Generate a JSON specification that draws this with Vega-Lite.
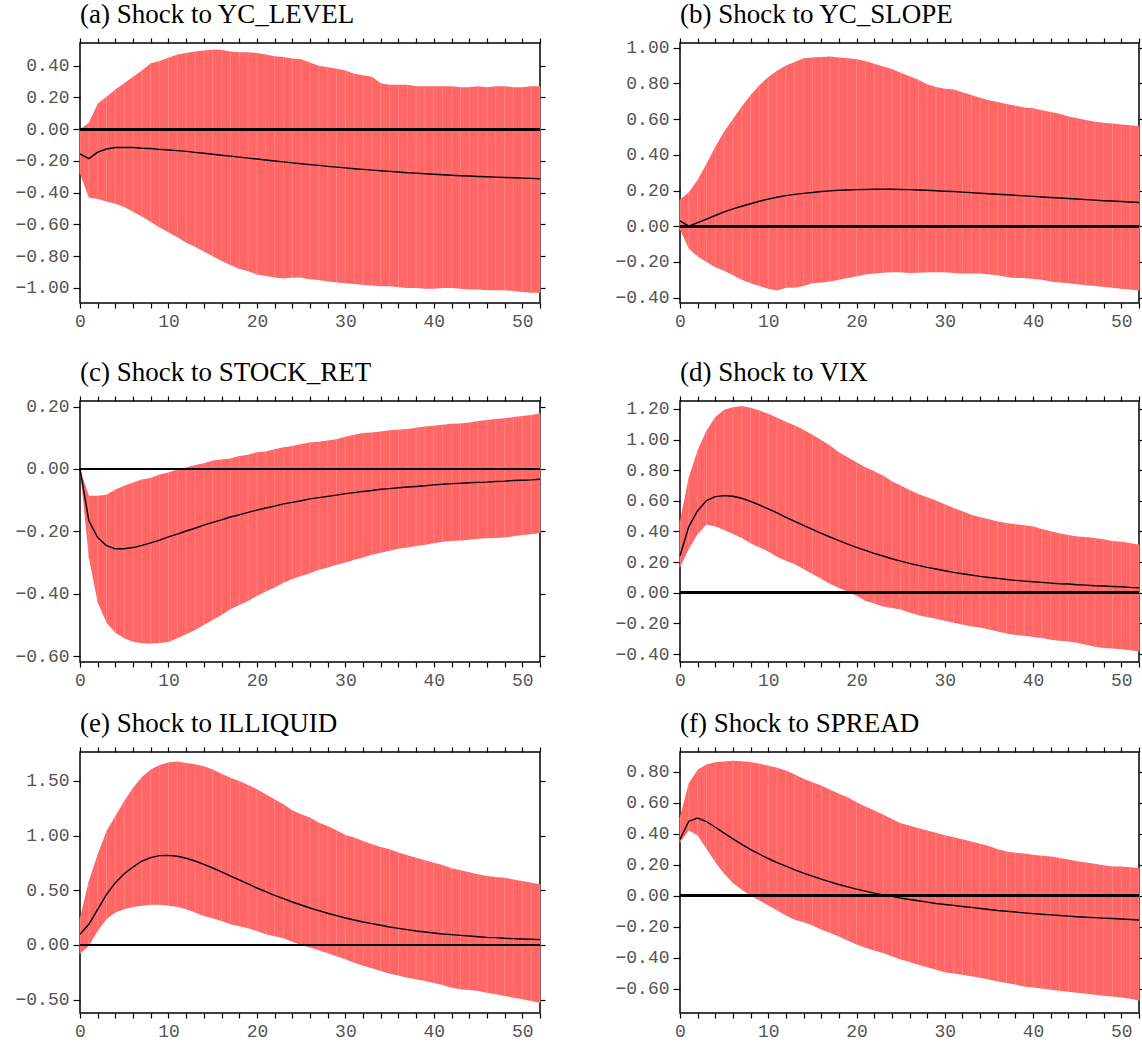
{
  "$schema": "https://vega.github.io/schema/vega-lite/v6.json",
  "background": "white",
  "padding": {"left": 14, "top": 0, "right": 0, "bottom": 0},
  "config": {
    "view": {"stroke": "black", "strokeWidth": 1.5},
    "font": "Liberation Serif",
    "axis": {"domain": false, "grid": false, "labelFont": "Liberation Mono", "labelFontSize": 18, "labelColor": "#555555", "tickColor": "black", "tickWidth": 1.2, "labelPadding": 4, "title": null, "labelOverlap": false, "labelFlush": false, "labelBound": false},
    "title": {"font": "Liberation Serif", "fontSize": 27, "fontWeight": "normal", "anchor": "start", "color": "black", "frame": "group", "offset": 8},
    "line": {"color": "black", "strokeWidth": 1.4},
    "area": {"color": "#ff6666"}
  },
  "data": {"values": [
    {"step":0,"a_lo":-0.28,"a_hi":0.0,"a_irf":-0.155,"b_lo":-0.02,"b_hi":0.15,"b_irf":0.03,"c_lo":0,"c_hi":0,"c_irf":0,"d_lo":0.166,"d_hi":0.47,"d_irf":0.242,"e_lo":-0.079,"e_hi":0.25,"e_irf":0.098,"f_lo":0.345,"f_hi":0.51,"f_irf":0.365},
    {"step":1,"a_lo":-0.43,"a_hi":0.04,"a_irf":-0.185,"b_lo":-0.125,"b_hi":0.19,"b_irf":0.0,"c_lo":-0.284,"c_hi":-0.086,"c_irf":-0.166,"d_lo":0.286,"d_hi":0.754,"d_irf":0.432,"e_lo":-0.009,"e_hi":0.585,"e_irf":0.189,"f_lo":0.422,"f_hi":0.728,"f_irf":0.482},
    {"step":2,"a_lo":-0.44,"a_hi":0.16,"a_irf":-0.145,"b_lo":-0.17,"b_hi":0.26,"b_irf":0.02,"c_lo":-0.428,"c_hi":-0.086,"c_irf":-0.22,"d_lo":0.384,"d_hi":0.93,"d_irf":0.536,"e_lo":0.128,"e_hi":0.83,"e_irf":0.326,"f_lo":0.39,"f_hi":0.814,"f_irf":0.502},
    {"step":3,"a_lo":-0.455,"a_hi":0.205,"a_irf":-0.125,"b_lo":-0.2,"b_hi":0.35,"b_irf":0.04,"c_lo":-0.493,"c_hi":-0.083,"c_irf":-0.246,"d_lo":0.445,"d_hi":1.06,"d_irf":0.602,"e_lo":0.235,"e_hi":1.043,"e_irf":0.463,"f_lo":0.304,"f_hi":0.848,"f_irf":0.48},
    {"step":4,"a_lo":-0.47,"a_hi":0.25,"a_irf":-0.115,"b_lo":-0.23,"b_hi":0.445,"b_irf":0.06,"c_lo":-0.525,"c_hi":-0.066,"c_irf":-0.256,"d_lo":0.432,"d_hi":1.147,"d_irf":0.628,"e_lo":0.296,"e_hi":1.18,"e_irf":0.57,"f_lo":0.217,"f_hi":0.863,"f_irf":0.443},
    {"step":5,"a_lo":-0.49,"a_hi":0.29,"a_irf":-0.115,"b_lo":-0.25,"b_hi":0.53,"b_irf":0.08,"c_lo":-0.543,"c_hi":-0.054,"c_irf":-0.256,"d_lo":0.41,"d_hi":1.195,"d_irf":0.634,"e_lo":0.326,"e_hi":1.317,"e_irf":0.652,"f_lo":0.142,"f_hi":0.868,"f_irf":0.405},
    {"step":6,"a_lo":-0.52,"a_hi":0.33,"a_irf":-0.115,"b_lo":-0.275,"b_hi":0.6,"b_irf":0.097,"c_lo":-0.554,"c_hi":-0.043,"c_irf":-0.252,"d_lo":0.384,"d_hi":1.212,"d_irf":0.63,"e_lo":0.348,"e_hi":1.439,"e_irf":0.713,"f_lo":0.082,"f_hi":0.872,"f_irf":0.368},
    {"step":7,"a_lo":-0.55,"a_hi":0.37,"a_irf":-0.12,"b_lo":-0.3,"b_hi":0.67,"b_irf":0.112,"c_lo":-0.559,"c_hi":-0.034,"c_irf":-0.245,"d_lo":0.357,"d_hi":1.22,"d_irf":0.617,"e_lo":0.36,"e_hi":1.537,"e_irf":0.768,"f_lo":0.039,"f_hi":0.87,"f_irf":0.332},
    {"step":8,"a_lo":-0.585,"a_hi":0.415,"a_irf":-0.122,"b_lo":-0.32,"b_hi":0.735,"b_irf":0.126,"c_lo":-0.56,"c_hi":-0.029,"c_irf":-0.237,"d_lo":0.323,"d_hi":1.208,"d_irf":0.597,"e_lo":0.369,"e_hi":1.604,"e_irf":0.799,"f_lo":0.002,"f_hi":0.865,"f_irf":0.299},
    {"step":9,"a_lo":-0.62,"a_hi":0.43,"a_irf":-0.127,"b_lo":-0.335,"b_hi":0.79,"b_irf":0.14,"c_lo":-0.558,"c_hi":-0.018,"c_irf":-0.228,"d_lo":0.296,"d_hi":1.19,"d_irf":0.573,"e_lo":0.369,"e_hi":1.646,"e_irf":0.817,"f_lo":-0.03,"f_hi":0.853,"f_irf":0.269},
    {"step":10,"a_lo":-0.65,"a_hi":0.45,"a_irf":-0.131,"b_lo":-0.35,"b_hi":0.835,"b_irf":0.152,"c_lo":-0.555,"c_hi":-0.011,"c_irf":-0.218,"d_lo":0.27,"d_hi":1.168,"d_irf":0.547,"e_lo":0.36,"e_hi":1.67,"e_irf":0.82,"f_lo":-0.062,"f_hi":0.84,"f_irf":0.241},
    {"step":11,"a_lo":-0.68,"a_hi":0.47,"a_irf":-0.135,"b_lo":-0.36,"b_hi":0.87,"b_irf":0.162,"c_lo":-0.543,"c_hi":-0.002,"c_irf":-0.209,"d_lo":0.235,"d_hi":1.142,"d_irf":0.521,"e_lo":0.348,"e_hi":1.677,"e_irf":0.811,"f_lo":-0.095,"f_hi":0.827,"f_irf":0.215},
    {"step":12,"a_lo":-0.715,"a_hi":0.48,"a_irf":-0.14,"b_lo":-0.345,"b_hi":0.9,"b_irf":0.171,"c_lo":-0.53,"c_hi":0.005,"c_irf":-0.199,"d_lo":0.209,"d_hi":1.116,"d_irf":0.493,"e_lo":0.326,"e_hi":1.665,"e_irf":0.793,"f_lo":-0.127,"f_hi":0.81,"f_irf":0.192},
    {"step":13,"a_lo":-0.74,"a_hi":0.49,"a_irf":-0.146,"b_lo":-0.345,"b_hi":0.92,"b_irf":0.178,"c_lo":-0.516,"c_hi":0.013,"c_irf":-0.19,"d_lo":0.187,"d_hi":1.092,"d_irf":0.466,"e_lo":0.296,"e_hi":1.652,"e_irf":0.768,"f_lo":-0.155,"f_hi":0.784,"f_irf":0.168},
    {"step":14,"a_lo":-0.77,"a_hi":0.495,"a_irf":-0.152,"b_lo":-0.335,"b_hi":0.94,"b_irf":0.184,"c_lo":-0.5,"c_hi":0.018,"c_irf":-0.18,"d_lo":0.155,"d_hi":1.064,"d_irf":0.44,"e_lo":0.265,"e_hi":1.634,"e_irf":0.738,"f_lo":-0.17,"f_hi":0.756,"f_irf":0.146},
    {"step":15,"a_lo":-0.8,"a_hi":0.5,"a_irf":-0.158,"b_lo":-0.32,"b_hi":0.945,"b_irf":0.189,"c_lo":-0.484,"c_hi":0.027,"c_irf":-0.171,"d_lo":0.122,"d_hi":1.031,"d_irf":0.414,"e_lo":0.244,"e_hi":1.604,"e_irf":0.704,"f_lo":-0.192,"f_hi":0.734,"f_irf":0.127},
    {"step":16,"a_lo":-0.83,"a_hi":0.5,"a_irf":-0.164,"b_lo":-0.315,"b_hi":0.948,"b_irf":0.194,"c_lo":-0.468,"c_hi":0.03,"c_irf":-0.163,"d_lo":0.092,"d_hi":0.998,"d_irf":0.388,"e_lo":0.22,"e_hi":1.567,"e_irf":0.668,"f_lo":-0.217,"f_hi":0.713,"f_irf":0.108},
    {"step":17,"a_lo":-0.855,"a_hi":0.49,"a_irf":-0.17,"b_lo":-0.31,"b_hi":0.95,"b_irf":0.198,"c_lo":-0.45,"c_hi":0.034,"c_irf":-0.154,"d_lo":0.057,"d_hi":0.961,"d_irf":0.364,"e_lo":0.189,"e_hi":1.53,"e_irf":0.631,"f_lo":-0.241,"f_hi":0.685,"f_irf":0.09},
    {"step":18,"a_lo":-0.88,"a_hi":0.485,"a_irf":-0.176,"b_lo":-0.3,"b_hi":0.945,"b_irf":0.201,"c_lo":-0.436,"c_hi":0.042,"c_irf":-0.147,"d_lo":0.031,"d_hi":0.918,"d_irf":0.34,"e_lo":0.171,"e_hi":1.5,"e_irf":0.595,"f_lo":-0.263,"f_hi":0.659,"f_irf":0.073},
    {"step":19,"a_lo":-0.895,"a_hi":0.485,"a_irf":-0.182,"b_lo":-0.29,"b_hi":0.94,"b_irf":0.203,"c_lo":-0.423,"c_hi":0.046,"c_irf":-0.139,"d_lo":0.009,"d_hi":0.885,"d_irf":0.318,"e_lo":0.152,"e_hi":1.463,"e_irf":0.558,"f_lo":-0.288,"f_hi":0.637,"f_irf":0.058},
    {"step":20,"a_lo":-0.915,"a_hi":0.48,"a_irf":-0.188,"b_lo":-0.28,"b_hi":0.935,"b_irf":0.205,"c_lo":-0.407,"c_hi":0.054,"c_irf":-0.132,"d_lo":-0.02,"d_hi":0.852,"d_irf":0.296,"e_lo":0.128,"e_hi":1.424,"e_irf":0.521,"f_lo":-0.314,"f_hi":0.605,"f_irf":0.043},
    {"step":21,"a_lo":-0.925,"a_hi":0.47,"a_irf":-0.194,"b_lo":-0.27,"b_hi":0.925,"b_irf":0.206,"c_lo":-0.393,"c_hi":0.056,"c_irf":-0.125,"d_lo":-0.052,"d_hi":0.82,"d_irf":0.277,"e_lo":0.098,"e_hi":1.378,"e_irf":0.488,"f_lo":-0.336,"f_hi":0.577,"f_irf":0.03},
    {"step":22,"a_lo":-0.935,"a_hi":0.46,"a_irf":-0.2,"b_lo":-0.265,"b_hi":0.91,"b_irf":0.207,"c_lo":-0.38,"c_hi":0.063,"c_irf":-0.119,"d_lo":-0.07,"d_hi":0.793,"d_irf":0.257,"e_lo":0.079,"e_hi":1.332,"e_irf":0.454,"f_lo":-0.353,"f_hi":0.551,"f_irf":0.017},
    {"step":23,"a_lo":-0.94,"a_hi":0.455,"a_irf":-0.206,"b_lo":-0.26,"b_hi":0.895,"b_irf":0.207,"c_lo":-0.365,"c_hi":0.07,"c_irf":-0.112,"d_lo":-0.089,"d_hi":0.765,"d_irf":0.24,"e_lo":0.061,"e_hi":1.287,"e_irf":0.424,"f_lo":-0.37,"f_hi":0.525,"f_irf":0.006},
    {"step":24,"a_lo":-0.935,"a_hi":0.445,"a_irf":-0.212,"b_lo":-0.258,"b_hi":0.88,"b_irf":0.207,"c_lo":-0.353,"c_hi":0.074,"c_irf":-0.107,"d_lo":-0.1,"d_hi":0.728,"d_irf":0.222,"e_lo":0.03,"e_hi":1.232,"e_irf":0.393,"f_lo":-0.39,"f_hi":0.497,"f_irf":-0.004},
    {"step":25,"a_lo":-0.935,"a_hi":0.44,"a_irf":-0.218,"b_lo":-0.258,"b_hi":0.86,"b_irf":0.206,"c_lo":-0.343,"c_hi":0.08,"c_irf":-0.102,"d_lo":-0.109,"d_hi":0.7,"d_irf":0.207,"e_lo":0.0,"e_hi":1.195,"e_irf":0.366,"f_lo":-0.411,"f_hi":0.469,"f_irf":-0.015},
    {"step":26,"a_lo":-0.945,"a_hi":0.42,"a_irf":-0.223,"b_lo":-0.262,"b_hi":0.84,"b_irf":0.205,"c_lo":-0.334,"c_hi":0.085,"c_irf":-0.096,"d_lo":-0.129,"d_hi":0.671,"d_irf":0.192,"e_lo":-0.024,"e_hi":1.165,"e_irf":0.338,"f_lo":-0.428,"f_hi":0.454,"f_irf":-0.024},
    {"step":27,"a_lo":-0.95,"a_hi":0.4,"a_irf":-0.228,"b_lo":-0.26,"b_hi":0.82,"b_irf":0.203,"c_lo":-0.323,"c_hi":0.087,"c_irf":-0.092,"d_lo":-0.146,"d_hi":0.645,"d_irf":0.179,"e_lo":-0.049,"e_hi":1.119,"e_irf":0.314,"f_lo":-0.446,"f_hi":0.437,"f_irf":-0.032},
    {"step":28,"a_lo":-0.96,"a_hi":0.39,"a_irf":-0.234,"b_lo":-0.258,"b_hi":0.795,"b_irf":0.201,"c_lo":-0.316,"c_hi":0.091,"c_irf":-0.088,"d_lo":-0.159,"d_hi":0.623,"d_irf":0.166,"e_lo":-0.076,"e_hi":1.088,"e_irf":0.29,"f_lo":-0.461,"f_hi":0.422,"f_irf":-0.041},
    {"step":29,"a_lo":-0.965,"a_hi":0.38,"a_irf":-0.239,"b_lo":-0.258,"b_hi":0.78,"b_irf":0.199,"c_lo":-0.307,"c_hi":0.095,"c_irf":-0.084,"d_lo":-0.17,"d_hi":0.602,"d_irf":0.155,"e_lo":-0.104,"e_hi":1.049,"e_irf":0.268,"f_lo":-0.478,"f_hi":0.407,"f_irf":-0.05},
    {"step":30,"a_lo":-0.97,"a_hi":0.37,"a_irf":-0.244,"b_lo":-0.258,"b_hi":0.77,"b_irf":0.196,"c_lo":-0.3,"c_hi":0.103,"c_irf":-0.079,"d_lo":-0.183,"d_hi":0.578,"d_irf":0.144,"e_lo":-0.131,"e_hi":1.006,"e_irf":0.247,"f_lo":-0.493,"f_hi":0.392,"f_irf":-0.056},
    {"step":31,"a_lo":-0.975,"a_hi":0.35,"a_irf":-0.249,"b_lo":-0.262,"b_hi":0.765,"b_irf":0.194,"c_lo":-0.291,"c_hi":0.11,"c_irf":-0.076,"d_lo":-0.196,"d_hi":0.554,"d_irf":0.133,"e_lo":-0.162,"e_hi":0.982,"e_irf":0.229,"f_lo":-0.502,"f_hi":0.379,"f_irf":-0.062},
    {"step":32,"a_lo":-0.98,"a_hi":0.34,"a_irf":-0.253,"b_lo":-0.265,"b_hi":0.75,"b_irf":0.191,"c_lo":-0.284,"c_hi":0.115,"c_irf":-0.072,"d_lo":-0.207,"d_hi":0.532,"d_irf":0.124,"e_lo":-0.189,"e_hi":0.951,"e_irf":0.21,"f_lo":-0.51,"f_hi":0.366,"f_irf":-0.069},
    {"step":33,"a_lo":-0.985,"a_hi":0.33,"a_irf":-0.258,"b_lo":-0.265,"b_hi":0.735,"b_irf":0.188,"c_lo":-0.275,"c_hi":0.117,"c_irf":-0.069,"d_lo":-0.218,"d_hi":0.51,"d_irf":0.116,"e_lo":-0.213,"e_hi":0.921,"e_irf":0.195,"f_lo":-0.519,"f_hi":0.351,"f_irf":-0.075},
    {"step":34,"a_lo":-0.99,"a_hi":0.29,"a_irf":-0.262,"b_lo":-0.265,"b_hi":0.72,"b_irf":0.185,"c_lo":-0.269,"c_hi":0.12,"c_irf":-0.065,"d_lo":-0.227,"d_hi":0.493,"d_irf":0.107,"e_lo":-0.238,"e_hi":0.896,"e_irf":0.18,"f_lo":-0.53,"f_hi":0.336,"f_irf":-0.082},
    {"step":35,"a_lo":-0.99,"a_hi":0.28,"a_irf":-0.266,"b_lo":-0.27,"b_hi":0.705,"b_irf":0.182,"c_lo":-0.262,"c_hi":0.124,"c_irf":-0.063,"d_lo":-0.24,"d_hi":0.48,"d_irf":0.1,"e_lo":-0.262,"e_hi":0.875,"e_irf":0.165,"f_lo":-0.54,"f_hi":0.321,"f_irf":-0.088},
    {"step":36,"a_lo":-0.995,"a_hi":0.28,"a_irf":-0.27,"b_lo":-0.275,"b_hi":0.695,"b_irf":0.179,"c_lo":-0.256,"c_hi":0.126,"c_irf":-0.06,"d_lo":-0.253,"d_hi":0.466,"d_irf":0.094,"e_lo":-0.28,"e_hi":0.845,"e_irf":0.152,"f_lo":-0.553,"f_hi":0.301,"f_irf":-0.095},
    {"step":37,"a_lo":-1.0,"a_hi":0.28,"a_irf":-0.274,"b_lo":-0.285,"b_hi":0.685,"b_irf":0.176,"c_lo":-0.252,"c_hi":0.128,"c_irf":-0.058,"d_lo":-0.266,"d_hi":0.456,"d_irf":0.087,"e_lo":-0.299,"e_hi":0.82,"e_irf":0.14,"f_lo":-0.564,"f_hi":0.286,"f_irf":-0.1},
    {"step":38,"a_lo":-1.0,"a_hi":0.27,"a_irf":-0.277,"b_lo":-0.29,"b_hi":0.675,"b_irf":0.173,"c_lo":-0.247,"c_hi":0.132,"c_irf":-0.056,"d_lo":-0.275,"d_hi":0.447,"d_irf":0.081,"e_lo":-0.314,"e_hi":0.799,"e_irf":0.128,"f_lo":-0.573,"f_hi":0.278,"f_irf":-0.105},
    {"step":39,"a_lo":-1.005,"a_hi":0.27,"a_irf":-0.281,"b_lo":-0.29,"b_hi":0.665,"b_irf":0.17,"c_lo":-0.243,"c_hi":0.136,"c_irf":-0.054,"d_lo":-0.281,"d_hi":0.44,"d_irf":0.076,"e_lo":-0.329,"e_hi":0.774,"e_irf":0.119,"f_lo":-0.586,"f_hi":0.273,"f_irf":-0.11},
    {"step":40,"a_lo":-1.005,"a_hi":0.27,"a_irf":-0.284,"b_lo":-0.295,"b_hi":0.66,"b_irf":0.167,"c_lo":-0.238,"c_hi":0.139,"c_irf":-0.051,"d_lo":-0.288,"d_hi":0.432,"d_irf":0.072,"e_lo":-0.348,"e_hi":0.753,"e_irf":0.11,"f_lo":-0.592,"f_hi":0.265,"f_irf":-0.115},
    {"step":41,"a_lo":-1.0,"a_hi":0.27,"a_irf":-0.287,"b_lo":-0.3,"b_hi":0.65,"b_irf":0.164,"c_lo":-0.233,"c_hi":0.142,"c_irf":-0.049,"d_lo":-0.296,"d_hi":0.416,"d_irf":0.068,"e_lo":-0.366,"e_hi":0.732,"e_irf":0.101,"f_lo":-0.598,"f_hi":0.258,"f_irf":-0.119},
    {"step":42,"a_lo":-1.0,"a_hi":0.27,"a_irf":-0.29,"b_lo":-0.31,"b_hi":0.64,"b_irf":0.161,"c_lo":-0.231,"c_hi":0.145,"c_irf":-0.047,"d_lo":-0.307,"d_hi":0.401,"d_irf":0.063,"e_lo":-0.39,"e_hi":0.701,"e_irf":0.095,"f_lo":-0.607,"f_hi":0.254,"f_irf":-0.123},
    {"step":43,"a_lo":-1.005,"a_hi":0.265,"a_irf":-0.293,"b_lo":-0.315,"b_hi":0.63,"b_irf":0.158,"c_lo":-0.229,"c_hi":0.146,"c_irf":-0.046,"d_lo":-0.314,"d_hi":0.388,"d_irf":0.059,"e_lo":-0.405,"e_hi":0.683,"e_irf":0.088,"f_lo":-0.614,"f_hi":0.245,"f_irf":-0.127},
    {"step":44,"a_lo":-1.01,"a_hi":0.265,"a_irf":-0.295,"b_lo":-0.32,"b_hi":0.615,"b_irf":0.155,"c_lo":-0.227,"c_hi":0.149,"c_irf":-0.044,"d_lo":-0.318,"d_hi":0.377,"d_irf":0.057,"e_lo":-0.412,"e_hi":0.665,"e_irf":0.082,"f_lo":-0.62,"f_hi":0.235,"f_irf":-0.131},
    {"step":45,"a_lo":-1.01,"a_hi":0.27,"a_irf":-0.298,"b_lo":-0.325,"b_hi":0.605,"b_irf":0.152,"c_lo":-0.224,"c_hi":0.154,"c_irf":-0.043,"d_lo":-0.327,"d_hi":0.368,"d_irf":0.052,"e_lo":-0.421,"e_hi":0.646,"e_irf":0.076,"f_lo":-0.626,"f_hi":0.224,"f_irf":-0.135},
    {"step":46,"a_lo":-1.015,"a_hi":0.265,"a_irf":-0.3,"b_lo":-0.33,"b_hi":0.595,"b_irf":0.149,"c_lo":-0.222,"c_hi":0.157,"c_irf":-0.042,"d_lo":-0.34,"d_hi":0.364,"d_irf":0.05,"e_lo":-0.436,"e_hi":0.631,"e_irf":0.07,"f_lo":-0.633,"f_hi":0.215,"f_irf":-0.138},
    {"step":47,"a_lo":-1.015,"a_hi":0.27,"a_irf":-0.302,"b_lo":-0.335,"b_hi":0.585,"b_irf":0.146,"c_lo":-0.221,"c_hi":0.16,"c_irf":-0.04,"d_lo":-0.353,"d_hi":0.357,"d_irf":0.046,"e_lo":-0.451,"e_hi":0.622,"e_irf":0.067,"f_lo":-0.639,"f_hi":0.207,"f_irf":-0.141},
    {"step":48,"a_lo":-1.015,"a_hi":0.27,"a_irf":-0.304,"b_lo":-0.34,"b_hi":0.58,"b_irf":0.143,"c_lo":-0.22,"c_hi":0.163,"c_irf":-0.039,"d_lo":-0.36,"d_hi":0.349,"d_irf":0.044,"e_lo":-0.466,"e_hi":0.616,"e_irf":0.061,"f_lo":-0.646,"f_hi":0.198,"f_irf":-0.144},
    {"step":49,"a_lo":-1.02,"a_hi":0.265,"a_irf":-0.306,"b_lo":-0.345,"b_hi":0.575,"b_irf":0.141,"c_lo":-0.216,"c_hi":0.167,"c_irf":-0.037,"d_lo":-0.364,"d_hi":0.338,"d_irf":0.041,"e_lo":-0.482,"e_hi":0.598,"e_irf":0.058,"f_lo":-0.65,"f_hi":0.189,"f_irf":-0.147},
    {"step":50,"a_lo":-1.025,"a_hi":0.265,"a_irf":-0.308,"b_lo":-0.35,"b_hi":0.57,"b_irf":0.138,"c_lo":-0.212,"c_hi":0.17,"c_irf":-0.036,"d_lo":-0.368,"d_hi":0.333,"d_irf":0.039,"e_lo":-0.497,"e_hi":0.585,"e_irf":0.055,"f_lo":-0.657,"f_hi":0.189,"f_irf":-0.15},
    {"step":51,"a_lo":-1.03,"a_hi":0.27,"a_irf":-0.31,"b_lo":-0.355,"b_hi":0.565,"b_irf":0.136,"c_lo":-0.209,"c_hi":0.173,"c_irf":-0.035,"d_lo":-0.375,"d_hi":0.325,"d_irf":0.035,"e_lo":-0.512,"e_hi":0.57,"e_irf":0.052,"f_lo":-0.665,"f_hi":0.185,"f_irf":-0.153},
    {"step":52,"a_lo":-1.03,"a_hi":0.27,"a_irf":-0.312,"b_lo":-0.36,"b_hi":0.56,"b_irf":0.133,"c_lo":-0.205,"c_hi":0.178,"c_irf":-0.033,"d_lo":-0.384,"d_hi":0.314,"d_irf":0.033,"e_lo":-0.53,"e_hi":0.555,"e_irf":0.049,"f_lo":-0.676,"f_hi":0.179,"f_irf":-0.156}
  ]},
  "spacing": 27,
  "vconcat": [
    {
      "spacing": 67,
      "hconcat": [
        {
          "width": 460, "height": 260,
          "title": {"text": "(a) Shock to YC_LEVEL"},
          "layer": [
            {"mark": "area", "encoding": {
              "x": {"field": "step", "type": "quantitative", "scale": {"domain": [0, 52], "nice": false, "zero": false}, "axis": {"values": [0,2,4,6,8,10,12,14,16,18,20,22,24,26,28,30,32,34,36,38,40,42,44,46,48,50,52], "labelExpr": "datum.value % 10 === 0 ? datum.label : ''", "tickSize": 5}},
              "y": {"field": "a_lo", "type": "quantitative", "scale": {"domain": [-1.095, 0.543], "nice": false, "zero": false}, "axis": {"values": [-1.0,-0.8,-0.6,-0.4,-0.2,0,0.2,0.4], "format": ".2f", "tickSize": 7}},
              "y2": {"field": "a_hi"}}},
            {"mark": {"type": "rule", "color": "#ff8c8c", "strokeWidth": 0.8}, "encoding": {
              "x": {"field": "step", "type": "quantitative", "scale": {"domain": [0, 52]}, "axis": null},
              "y": {"field": "a_lo", "type": "quantitative", "scale": {"domain": [-1.095, 0.543]}, "axis": null},
              "y2": {"field": "a_hi"}}},
            {"mark": {"type": "rule", "color": "black", "strokeWidth": 2.2}, "encoding": {"y": {"datum": 0, "type": "quantitative", "scale": {"domain": [-1.095, 0.543]}, "axis": null}}},
            {"mark": "line", "encoding": {
              "x": {"field": "step", "type": "quantitative", "scale": {"domain": [0, 52]}, "axis": {"orient": "top", "values": [0,2,4,6,8,10,12,14,16,18,20,22,24,26,28,30,32,34,36,38,40,42,44,46,48,50,52], "labels": false, "tickSize": 5}},
              "y": {"field": "a_irf", "type": "quantitative", "scale": {"domain": [-1.095, 0.543]}, "axis": {"orient": "right", "values": [-1.0,-0.8,-0.6,-0.4,-0.2,0,0.2,0.4], "labels": false, "tickSize": 5}}}}
          ],
          "resolve": {"axis": {"x": "independent", "y": "independent"}}
        },
        {
          "width": 459, "height": 260,
          "title": {"text": "(b) Shock to YC_SLOPE"},
          "layer": [
            {"mark": "area", "encoding": {
              "x": {"field": "step", "type": "quantitative", "scale": {"domain": [0, 52], "nice": false, "zero": false}, "axis": {"values": [0,2,4,6,8,10,12,14,16,18,20,22,24,26,28,30,32,34,36,38,40,42,44,46,48,50,52], "labelExpr": "datum.value % 10 === 0 ? datum.label : ''", "tickSize": 5}},
              "y": {"field": "b_lo", "type": "quantitative", "scale": {"domain": [-0.43, 1.026], "nice": false, "zero": false}, "axis": {"values": [-0.4,-0.2,0,0.2,0.4,0.6,0.8,1.0], "format": ".2f", "tickSize": 7}},
              "y2": {"field": "b_hi"}}},
            {"mark": {"type": "rule", "color": "#ff8c8c", "strokeWidth": 0.8}, "encoding": {
              "x": {"field": "step", "type": "quantitative", "scale": {"domain": [0, 52]}, "axis": null},
              "y": {"field": "b_lo", "type": "quantitative", "scale": {"domain": [-0.43, 1.026]}, "axis": null},
              "y2": {"field": "b_hi"}}},
            {"mark": {"type": "rule", "color": "black", "strokeWidth": 2.2}, "encoding": {"y": {"datum": 0, "type": "quantitative", "scale": {"domain": [-0.43, 1.026]}, "axis": null}}},
            {"mark": "line", "encoding": {
              "x": {"field": "step", "type": "quantitative", "scale": {"domain": [0, 52]}, "axis": {"orient": "top", "values": [0,2,4,6,8,10,12,14,16,18,20,22,24,26,28,30,32,34,36,38,40,42,44,46,48,50,52], "labels": false, "tickSize": 5}},
              "y": {"field": "b_irf", "type": "quantitative", "scale": {"domain": [-0.43, 1.026]}, "axis": {"orient": "right", "values": [-0.4,-0.2,0,0.2,0.4,0.6,0.8,1.0], "labels": false, "tickSize": 5}}}}
          ],
          "resolve": {"axis": {"x": "independent", "y": "independent"}}
        }
      ]
    },
    {
      "spacing": 19,
      "vconcat": [
        {
          "spacing": 67,
          "hconcat": [
            {
              "width": 460, "height": 261,
              "title": {"text": "(c) Shock to STOCK_RET"},
              "layer": [
                {"mark": "area", "encoding": {
                  "x": {"field": "step", "type": "quantitative", "scale": {"domain": [0, 52], "nice": false, "zero": false}, "axis": {"values": [0,2,4,6,8,10,12,14,16,18,20,22,24,26,28,30,32,34,36,38,40,42,44,46,48,50,52], "labelExpr": "datum.value % 10 === 0 ? datum.label : ''", "tickSize": 5}},
                  "y": {"field": "c_lo", "type": "quantitative", "scale": {"domain": [-0.619, 0.218], "nice": false, "zero": false}, "axis": {"values": [-0.6,-0.4,-0.2,0,0.2], "format": ".2f", "tickSize": 7}},
                  "y2": {"field": "c_hi"}}},
                {"mark": {"type": "rule", "color": "#ff8c8c", "strokeWidth": 0.8}, "encoding": {
                  "x": {"field": "step", "type": "quantitative", "scale": {"domain": [0, 52]}, "axis": null},
                  "y": {"field": "c_lo", "type": "quantitative", "scale": {"domain": [-0.619, 0.218]}, "axis": null},
                  "y2": {"field": "c_hi"}}},
                {"mark": {"type": "rule", "color": "black", "strokeWidth": 2.2}, "encoding": {"y": {"datum": 0, "type": "quantitative", "scale": {"domain": [-0.619, 0.218]}, "axis": null}}},
                {"mark": "line", "encoding": {
                  "x": {"field": "step", "type": "quantitative", "scale": {"domain": [0, 52]}, "axis": {"orient": "top", "values": [0,2,4,6,8,10,12,14,16,18,20,22,24,26,28,30,32,34,36,38,40,42,44,46,48,50,52], "labels": false, "tickSize": 5}},
                  "y": {"field": "c_irf", "type": "quantitative", "scale": {"domain": [-0.619, 0.218]}, "axis": {"orient": "right", "values": [-0.6,-0.4,-0.2,0,0.2], "labels": false, "tickSize": 5}}}}
              ],
              "resolve": {"axis": {"x": "independent", "y": "independent"}}
            },
            {
              "width": 459, "height": 261,
              "title": {"text": "(d) Shock to VIX"},
              "layer": [
                {"mark": "area", "encoding": {
                  "x": {"field": "step", "type": "quantitative", "scale": {"domain": [0, 52], "nice": false, "zero": false}, "axis": {"values": [0,2,4,6,8,10,12,14,16,18,20,22,24,26,28,30,32,34,36,38,40,42,44,46,48,50,52], "labelExpr": "datum.value % 10 === 0 ? datum.label : ''", "tickSize": 5}},
                  "y": {"field": "d_lo", "type": "quantitative", "scale": {"domain": [-0.452, 1.252], "nice": false, "zero": false}, "axis": {"values": [-0.4,-0.2,0,0.2,0.4,0.6,0.8,1.0,1.2], "format": ".2f", "tickSize": 7}},
                  "y2": {"field": "d_hi"}}},
                {"mark": {"type": "rule", "color": "#ff8c8c", "strokeWidth": 0.8}, "encoding": {
                  "x": {"field": "step", "type": "quantitative", "scale": {"domain": [0, 52]}, "axis": null},
                  "y": {"field": "d_lo", "type": "quantitative", "scale": {"domain": [-0.452, 1.252]}, "axis": null},
                  "y2": {"field": "d_hi"}}},
                {"mark": {"type": "rule", "color": "black", "strokeWidth": 2.2}, "encoding": {"y": {"datum": 0, "type": "quantitative", "scale": {"domain": [-0.452, 1.252]}, "axis": null}}},
                {"mark": "line", "encoding": {
                  "x": {"field": "step", "type": "quantitative", "scale": {"domain": [0, 52]}, "axis": {"orient": "top", "values": [0,2,4,6,8,10,12,14,16,18,20,22,24,26,28,30,32,34,36,38,40,42,44,46,48,50,52], "labels": false, "tickSize": 5}},
                  "y": {"field": "d_irf", "type": "quantitative", "scale": {"domain": [-0.452, 1.252]}, "axis": {"orient": "right", "values": [-0.4,-0.2,0,0.2,0.4,0.6,0.8,1.0,1.2], "labels": false, "tickSize": 5}}}}
              ],
              "resolve": {"axis": {"x": "independent", "y": "independent"}}
            }
          ]
        },
        {
          "spacing": 67,
          "hconcat": [
            {
              "width": 460, "height": 261,
              "title": {"text": "(e) Shock to ILLIQUID"},
              "layer": [
                {"mark": "area", "encoding": {
                  "x": {"field": "step", "type": "quantitative", "scale": {"domain": [0, 52], "nice": false, "zero": false}, "axis": {"values": [0,2,4,6,8,10,12,14,16,18,20,22,24,26,28,30,32,34,36,38,40,42,44,46,48,50,52], "labelExpr": "datum.value % 10 === 0 ? datum.label : ''", "tickSize": 5}},
                  "y": {"field": "e_lo", "type": "quantitative", "scale": {"domain": [-0.622, 1.765], "nice": false, "zero": false}, "axis": {"values": [-0.5,0,0.5,1.0,1.5], "format": ".2f", "tickSize": 7}},
                  "y2": {"field": "e_hi"}}},
                {"mark": {"type": "rule", "color": "#ff8c8c", "strokeWidth": 0.8}, "encoding": {
                  "x": {"field": "step", "type": "quantitative", "scale": {"domain": [0, 52]}, "axis": null},
                  "y": {"field": "e_lo", "type": "quantitative", "scale": {"domain": [-0.622, 1.765]}, "axis": null},
                  "y2": {"field": "e_hi"}}},
                {"mark": {"type": "rule", "color": "black", "strokeWidth": 2.2}, "encoding": {"y": {"datum": 0, "type": "quantitative", "scale": {"domain": [-0.622, 1.765]}, "axis": null}}},
                {"mark": "line", "encoding": {
                  "x": {"field": "step", "type": "quantitative", "scale": {"domain": [0, 52]}, "axis": {"orient": "top", "values": [0,2,4,6,8,10,12,14,16,18,20,22,24,26,28,30,32,34,36,38,40,42,44,46,48,50,52], "labels": false, "tickSize": 5}},
                  "y": {"field": "e_irf", "type": "quantitative", "scale": {"domain": [-0.622, 1.765]}, "axis": {"orient": "right", "values": [-0.5,0,0.5,1.0,1.5], "labels": false, "tickSize": 5}}}}
              ],
              "resolve": {"axis": {"x": "independent", "y": "independent"}}
            },
            {
              "width": 459, "height": 261,
              "title": {"text": "(f) Shock to SPREAD"},
              "layer": [
                {"mark": "area", "encoding": {
                  "x": {"field": "step", "type": "quantitative", "scale": {"domain": [0, 52], "nice": false, "zero": false}, "axis": {"values": [0,2,4,6,8,10,12,14,16,18,20,22,24,26,28,30,32,34,36,38,40,42,44,46,48,50,52], "labelExpr": "datum.value % 10 === 0 ? datum.label : ''", "tickSize": 5}},
                  "y": {"field": "f_lo", "type": "quantitative", "scale": {"domain": [-0.757, 0.929], "nice": false, "zero": false}, "axis": {"values": [-0.6,-0.4,-0.2,0,0.2,0.4,0.6,0.8], "format": ".2f", "tickSize": 7}},
                  "y2": {"field": "f_hi"}}},
                {"mark": {"type": "rule", "color": "#ff8c8c", "strokeWidth": 0.8}, "encoding": {
                  "x": {"field": "step", "type": "quantitative", "scale": {"domain": [0, 52]}, "axis": null},
                  "y": {"field": "f_lo", "type": "quantitative", "scale": {"domain": [-0.757, 0.929]}, "axis": null},
                  "y2": {"field": "f_hi"}}},
                {"mark": {"type": "rule", "color": "black", "strokeWidth": 2.2}, "encoding": {"y": {"datum": 0, "type": "quantitative", "scale": {"domain": [-0.757, 0.929]}, "axis": null}}},
                {"mark": "line", "encoding": {
                  "x": {"field": "step", "type": "quantitative", "scale": {"domain": [0, 52]}, "axis": {"orient": "top", "values": [0,2,4,6,8,10,12,14,16,18,20,22,24,26,28,30,32,34,36,38,40,42,44,46,48,50,52], "labels": false, "tickSize": 5}},
                  "y": {"field": "f_irf", "type": "quantitative", "scale": {"domain": [-0.757, 0.929]}, "axis": {"orient": "right", "values": [-0.6,-0.4,-0.2,0,0.2,0.4,0.6,0.8], "labels": false, "tickSize": 5}}}}
              ],
              "resolve": {"axis": {"x": "independent", "y": "independent"}}
            }
          ]
        }
      ]
    }
  ]
}
